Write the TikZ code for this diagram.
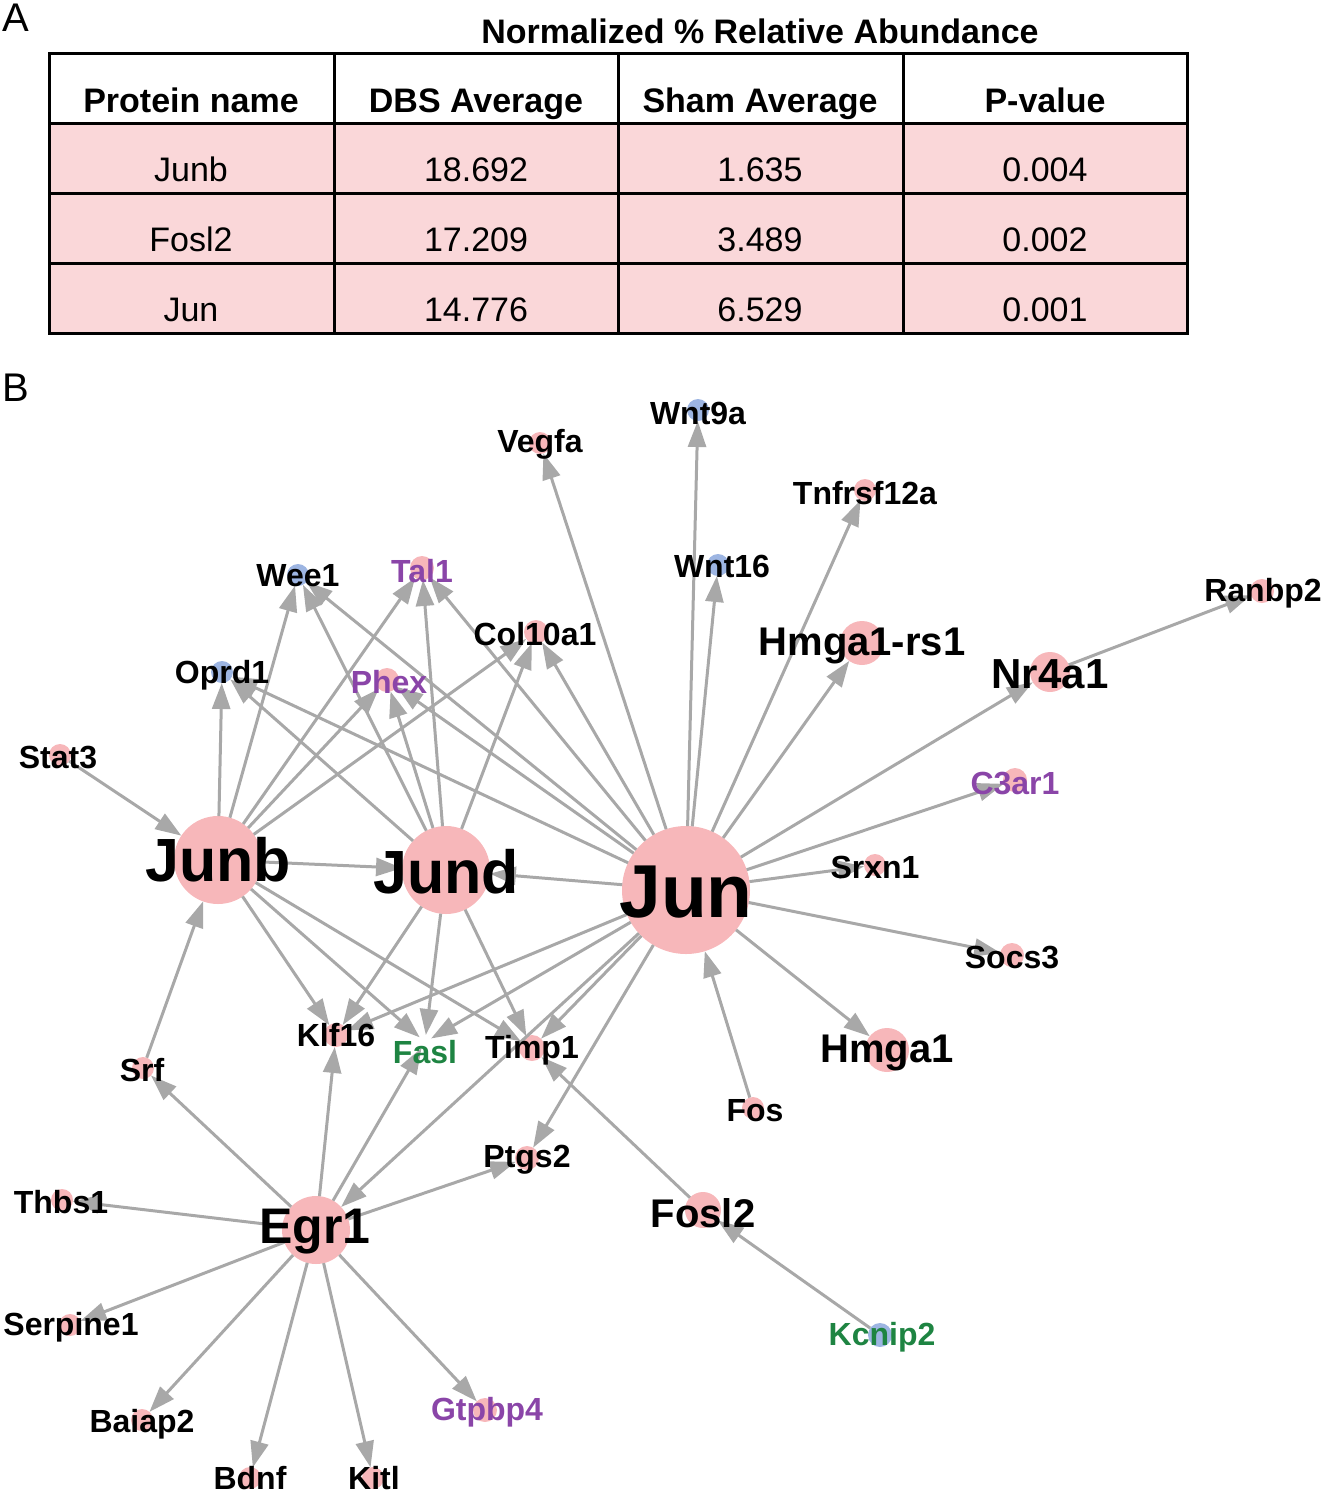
\documentclass[tikz,border=0pt]{standalone}
\usepackage{fontspec}
\setmainfont{Liberation Sans}
\usetikzlibrary{arrows.meta}
\definecolor{pk}{HTML}{F7B7BA}
\definecolor{bl}{HTML}{9DB5E2}
\definecolor{pu}{HTML}{8A45A8}
\definecolor{gr}{HTML}{1E8442}
\definecolor{tf}{HTML}{FAD7D9}
\definecolor{ed}{HTML}{A8A8A8}
\tikzset{
 dot/.style={circle,inner sep=0pt,outer sep=0pt},
 lab/.style={inner sep=0pt,font=\bfseries},
 arr/.style={draw=ed,line width=3pt,-{Triangle[length=26pt,width=18pt]},fill=ed},
 cell/.style={inner sep=0pt,anchor=base,font=\fontsize{34}{36}\selectfont},
 hcell/.style={inner sep=0pt,anchor=base,font=\fontsize{34}{36}\selectfont\bfseries}
}
\newcommand{\fs}[1]{\fontsize{#1}{#1}\selectfont}
\begin{document}
\begin{tikzpicture}[x=1pt,y=-1pt]
\useasboundingbox (0,0) rectangle (1325,1500);
% table
\fill[tf] (49,123) rectangle (1187,333);
\draw[line width=3pt] (49,53) rectangle (1187,333);
\foreach \y in {123,193,263} \draw[line width=3pt] (49,\y) -- (1187,\y);
\foreach \x in {334,618,903} \draw[line width=3pt] (\x,53) -- (\x,333);
\node[lab,anchor=base,font=\fs{34}\bfseries] (ttl) at (760,43) {Normalized \% Relative Abundance};
\node[lab,font=\fs{40}] (la) at (16,18) {A};
\node[lab,font=\fs{40}] (lb) at (16,388) {B};
\node[hcell] (h1) at (191,112) {Protein name};
\node[hcell] (h2) at (476,112) {DBS Average};
\node[hcell] (h3) at (760,112) {Sham Average};
\node[hcell] (h4) at (1045,112) {P-value};
\node[cell] (c11) at (191,181) {Junb};
\node[cell] (c12) at (476,181) {18.692};
\node[cell] (c13) at (760,181) {1.635};
\node[cell] (c14) at (1045,181) {0.004};
\node[cell] (c21) at (191,251) {Fosl2};
\node[cell] (c22) at (476,251) {17.209};
\node[cell] (c23) at (760,251) {3.489};
\node[cell] (c24) at (1045,251) {0.002};
\node[cell] (c31) at (191,321) {Jun};
\node[cell] (c32) at (476,321) {14.776};
\node[cell] (c33) at (760,321) {6.529};
\node[cell] (c34) at (1045,321) {0.001};
% circles: name/x/y/diam/fill
\foreach \n/\x/\y/\d/\c in {
 Junb/218/860/88/pk, Jund/446/870/88/pk, Jun/686/890/128/pk, Egr1/316/1230/68/pk,
 Stat3/60/755/22/pk, Wee1/298/575/22/bl, Tal1/422/568/24/pk, Oprd1/222/672/22/bl,
 Phex/387/680/24/pk, Col10a1/536/632/24/pk, Vegfa/540/443/22/pk, Wnt9a/698/410/22/bl,
 Tnfrsf12a/865/490/22/pk, Wnt16/718/565/22/bl, Hmga1rs1/862/643/44/pk, Nr4a1/1050/672/40/pk,
 Ranbp2/1262/591/24/pk, C3ar1/1015/780/24/pk, Srxn1/875/865/22/pk, Socs3/1012/955/24/pk,
 Hmga1/887/1050/44/pk, Fos/753/1108/22/pk, Fosl2/703/1210/36/pk, Kcnip2/880/1335/24/bl,
 Ptgs2/527/1158/24/pk, Timp1/532/1048/26/pk, Fasl/425/1042/14/white, Klf16/336/1035/24/pk,
 Srf/143/1068/22/pk, Thbs1/62/1200/22/pk, Serpine1/70/1325/22/pk, Baiap2/142/1420/22/pk,
 Bdnf/250/1478/22/pk, Kitl/373/1478/22/pk, Gtpbp4/485/1410/24/pk}
 \node[dot,fill=\c,minimum size=\d] (\n) at (\x,\y) {};
% edges
\foreach \a/\b in {Stat3/Junb, Junb/Jund, Jun/Jund, Srf/Junb,
 Junb/Oprd1, Junb/Wee1, Junb/Tal1, Junb/Phex, Junb/Col10a1,
 Jund/Oprd1, Jund/Wee1, Jund/Phex, Jund/Tal1, Jund/Col10a1,
 Jun/Oprd1, Jun/Wee1, Jun/Tal1, Jun/Phex, Jun/Col10a1, Jun/Vegfa, Jun/Wnt9a, Jun/Wnt16,
 Jun/Tnfrsf12a, Jun/Hmga1rs1, Jun/Nr4a1, Nr4a1/Ranbp2, Jun/C3ar1, Jun/Srxn1, Jun/Socs3,
 Jun/Hmga1, Fos/Jun, Fosl2/Timp1, Kcnip2/Fosl2,
 Junb/Klf16, Junb/Fasl, Junb/Timp1, Jund/Klf16, Jund/Fasl, Jund/Timp1,
 Jun/Klf16, Jun/Fasl, Jun/Timp1, Jun/Egr1, Jun/Ptgs2,
 Egr1/Srf, Egr1/Klf16, Egr1/Fasl, Egr1/Ptgs2, Egr1/Thbs1, Egr1/Serpine1, Egr1/Baiap2,
 Egr1/Bdnf, Egr1/Kitl, Egr1/Gtpbp4}
 \draw[arr] (\a) -- (\b);
% labels: name/x/y/size/colour/text
\foreach \n/\x/\y/\s/\c/\t in {
 Junb/218/860/61/black/Junb, Jund/446/872/61/black/Jund, Jun/686/892/75/black/Jun, Egr1/315/1232/50/black/Egr1,
 Stat3/58/757/32/black/Stat3, Wee1/298/576/32/black/Wee1, Tal1/422/571/32/pu/Tal1, Oprd1/222/675/32/black/Oprd1,
 Phex/389/682/32/pu/Phex, Col10a1/535/634/32/black/Col10a1, Vegfa/540/444/32/black/Vegfa, Wnt9a/698/413/32/black/Wnt9a,
 Tnfrsf12a/865/493/32/black/Tnfrsf12a, Wnt16/722/566/32/black/Wnt16, Hmga1rs1/862/646/40/black/Hmga1-rs1,
 Nr4a1/1050/674/42/black/Nr4a1, Ranbp2/1263/593/32/black/Ranbp2, C3ar1/1015/783/32/pu/C3ar1,
 Srxn1/875/867/32/black/Srxn1, Socs3/1012/957/32/black/Socs3, Hmga1/887/1053/40/black/Hmga1,
 Fos/755/1111/32/black/Fos, Fosl2/703/1213/40/black/Fosl2, Kcnip2/882/1337/32/gr/Kcnip2,
 Ptgs2/527/1160/32/black/Ptgs2, Timp1/532/1050/32/black/Timp1, Fasl/425/1052/32/gr/Fasl,
 Klf16/336/1035/32/black/Klf16, Srf/142/1070/32/black/Srf, Thbs1/61/1202/32/black/Thbs1,
 Serpine1/71/1327/32/black/Serpine1, Baiap2/142/1424/32/black/Baiap2, Bdnf/250/1478/32/black/Bdnf,
 Kitl/374/1478/32/black/Kitl, Gtpbp4/487/1412/32/pu/Gtpbp4}
 \node[lab,text=\c,font=\fs{\s}\bfseries] (t-\n) at (\x,\y) {\t};
\end{tikzpicture}
\end{document}
